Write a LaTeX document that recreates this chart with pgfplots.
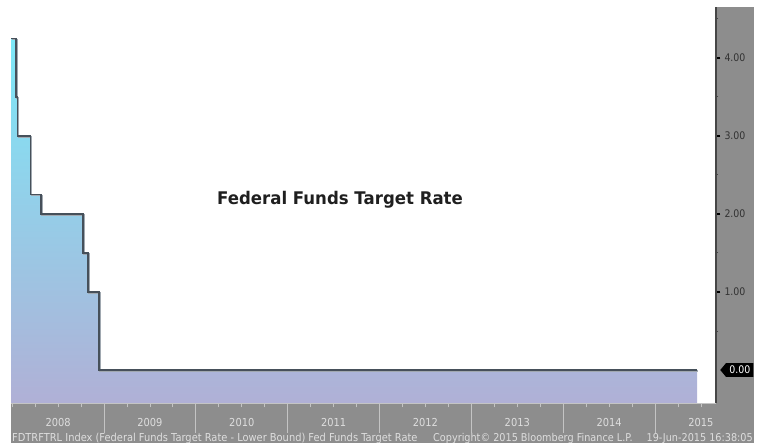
\documentclass[border=0pt]{standalone}
\usepackage{fontspec}
\setmainfont{DejaVu Sans}[FakeStretch=0.9]
\newfontfamily\titlefont{DejaVu Sans}[FakeStretch=0.95]
\usepackage{pgfplots}
\pgfplotsset{compat=1.18}
\usetikzlibrary{shapes.symbols}
\definecolor{bandgray}{RGB}{141,141,141}
\definecolor{lightline}{RGB}{196,196,196}
\definecolor{darkline}{RGB}{70,70,70}
\definecolor{labgray}{RGB}{222,222,222}
\definecolor{ticklab}{RGB}{50,50,50}
\definecolor{topcyan}{RGB}{124,232,248}
\definecolor{botlav}{RGB}{176,176,214}
\definecolor{stepline}{RGB}{70,80,90}
\definecolor{shadowc}{RGB}{160,168,176}
\begin{document}
\begin{tikzpicture}[x=1bp,y=1bp]
\path[use as bounding box] (0,0) rectangle (761,443);
\fill[bandgray] (11,0) rectangle (754,40);
\fill[bandgray] (715,40) rectangle (754,436);
\draw[lightline, line width=0.8bp] (715.4,40) -- (715.4,436);
\begin{axis}[
  at={(11bp,40bp)}, anchor=south west, scale only axis,
  width=705bp, height=396bp,
  xmin=2007.987, xmax=2015.664, ymin=-0.423, ymax=4.654,
  clip=false,
  axis x line*=bottom, axis y line*=right,
  x axis line style={draw=lightline, line width=0.8bp, -},
  y axis line style={draw=darkline, line width=1.4bp, -},
  tick align=outside,
  major tick length=4.5bp, minor tick length=2bp,
  xtick={2008,2008.25,...,2015.5},
  xticklabels={},
  xtick style={draw=lightline, line width=0.8bp},
  extra x ticks={2008.5,2009.5,2010.5,2011.5,2012.5,2013.5,2014.5,2015.5},
  extra x tick labels={2008,2009,2010,2011,2012,2013,2014,2015},
  extra x tick style={xtick style={draw=none}, xticklabel style={text=labgray, font=\fontsize{11}{13}\selectfont, yshift=-7.5bp}},
  ytick={1,2,3,4},
  minor ytick={0.5,1.5,2.5,3.5,4.5},
  ytick style={draw=black, line width=2bp},
  minor y tick style={draw=darkline, line width=1bp},
  yticklabel style={text=ticklab, font=\fontsize{10.5}{12}\selectfont, xshift=0.5bp,
    /pgf/number format/fixed, /pgf/number format/fixed zerofill,
    /pgf/number format/precision=2, /pgf/number format/assume math mode=true},
  extra y ticks={0},
  extra y tick style={ytick style={draw=none},
    yticklabel style={fill=black, text=white, shape=signal, signal to=west,
      signal pointer angle=100, inner xsep=3.2bp, inner ysep=3bp, xshift=-1bp}},
]
\addplot[const plot, draw=none, top color=topcyan, bottom color=botlav] coordinates {
  (2007.987,-0.423) (2007.987,4.25) (2008.041,3.5) (2008.058,3.0) (2008.199,2.25)
  (2008.314,2.0) (2008.771,1.5) (2008.825,1.0) (2008.945,0) (2015.457,0) (2015.457,-0.423)
} -- cycle;
\addplot[const plot, draw=shadowc, line width=1.2bp, no marks, shift={(1bp,-1bp)}] coordinates {
  (2007.987,4.25) (2008.041,3.5) (2008.058,3.0) (2008.199,2.25)
  (2008.314,2.0) (2008.771,1.5) (2008.825,1.0) (2008.945,0) (2015.457,0)
};
\addplot[const plot, draw=stepline, line width=1.1bp, no marks] coordinates {
  (2007.987,4.25) (2008.041,3.5) (2008.058,3.0) (2008.199,2.25)
  (2008.314,2.0) (2008.771,1.5) (2008.825,1.0) (2008.945,0) (2015.457,0)
};
\pgfplotsinvokeforeach{2009,2010,2011,2012,2013,2014,2015}{
  \draw[lightline, line width=0.8bp] (axis cs:#1,-0.423) -- ++(0bp,-30bp);
}
\node[text=black!88, font=\titlefont\bfseries\fontsize{17.5}{21}\selectfont] at (axis cs:2011.57,2.18) {Federal Funds Target Rate};
\end{axis}
\node[anchor=base west, text=labgray, font=\fontsize{11}{13}\selectfont, inner sep=0] at (12,1.8)
  {FDTRFTRL Index (Federal Funds Target Rate - Lower Bound) Fed Funds Target Rate};
\node[anchor=base west, text=labgray, font=\fontsize{10.8}{13}\selectfont, inner sep=0] at (433,1.8)
  {Copyright© 2015 Bloomberg Finance L.P.};
\node[anchor=base east, text=labgray, font=\fontsize{10.8}{13}\selectfont, inner sep=0] at (753,1.8)
  {19-Jun-2015 16:38:05};
\end{tikzpicture}
\end{document}
